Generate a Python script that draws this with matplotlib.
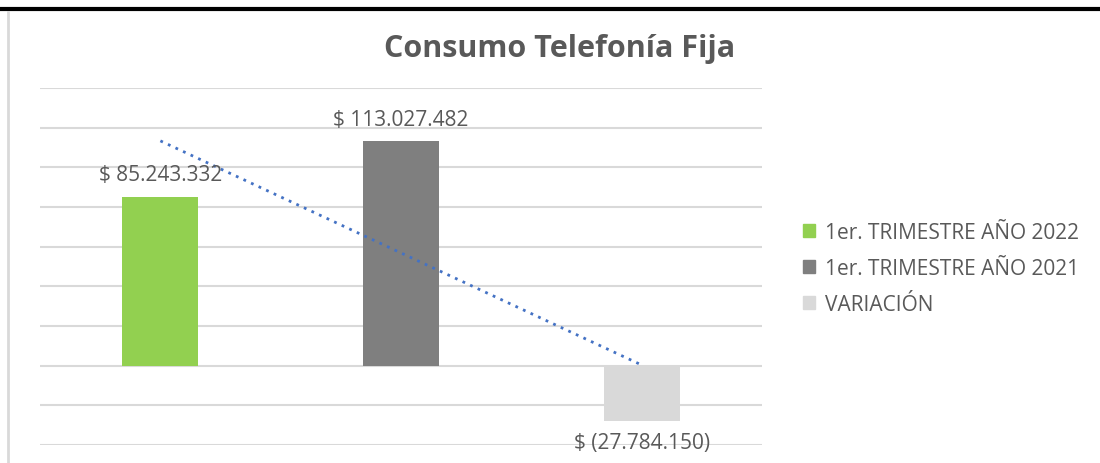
import matplotlib
matplotlib.use('Agg')
import matplotlib.pyplot as plt
import numpy as np
from matplotlib.lines import Line2D
from matplotlib.patches import Patch

plt.rcParams['font.family'] = ['Open Sans', 'DejaVu Sans']

series = ['1er. TRIMESTRE AÑO 2022', '1er. TRIMESTRE AÑO 2021', 'VARIACIÓN']
values = [85243332, 113027482, -27784150]
labels = ['$ 85.243.332', '$ 113.027.482', '$ (27.784.150)']
colors = ['#92d050', '#7f7f7f', '#d9d9d9']
txt = '#595959'

fig = plt.figure(figsize=(11, 4.64), dpi=100)
ax = fig.add_axes([0.0364, 0.0388, 0.6564, 0.7694])

x = np.arange(len(values))
ax.bar(x, values, width=0.315, color=colors, zorder=2)

# linear trendline over the bars
k, b = np.polyfit(x, values, 1)
ax.plot(x, k * x + b, linestyle=(0, (1, 2)), color='#4472c4', lw=2, zorder=3)

ax.set_xlim(-0.5, 2.5)
ax.set_ylim(-40e6, 140e6)
ax.set_yticks(np.arange(-40e6, 140e6 + 1, 20e6))
ax.grid(axis='y', color='#d9d9d9', lw=1.5, zorder=0)
ax.tick_params(left=False, bottom=False, labelleft=False, labelbottom=False)
for s in ax.spines.values():
    s.set_visible(False)

for xi, v, lab in zip(x, values, labels):
    if v >= 0:
        ax.annotate(lab, (xi, v), xytext=(0, 8), textcoords='offset points',
                    ha='center', va='bottom', fontsize=15, color=txt)
    else:
        ax.annotate(lab, (xi, v), xytext=(0, -8), textcoords='offset points',
                    ha='center', va='top', fontsize=15, color=txt)

fig.text(0.509, 0.895, 'Consumo Telefonía Fija', ha='center', va='center',
         fontsize=22, fontweight='bold', color=txt)

handles = [Patch(color=c) for c in colors]
leg = fig.legend(handles, series, loc='center left', bbox_to_anchor=(0.713, 0.42),
                 frameon=False, fontsize=15, labelcolor=txt, handlelength=0.55,
                 handleheight=0.55, handletextpad=0.5, labelspacing=0.72)

# frame lines of the screenshot
fig.add_artist(Line2D([0, 1], [0.979, 0.979], color='black', lw=3, transform=fig.transFigure))
fig.add_artist(Line2D([0.0073, 0.0073], [0, 0.972], color='#d9d9d9', lw=2, transform=fig.transFigure))

fig.savefig('out.png', dpi=100)
